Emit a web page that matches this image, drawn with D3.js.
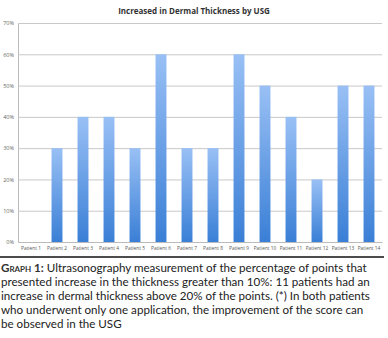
<!DOCTYPE html>
<html><head><meta charset="utf-8">
<script src="https://cdn.jsdelivr.net/npm/d3@7"></script>
<style>
body{margin:0;background:#fff;}
#cap{position:absolute;left:1px;top:261px;width:386px;font-family:Lato,"Open Sans",sans-serif;font-size:11.6px;line-height:14.1px;color:#222;white-space:nowrap;}
#cap b{font-variant:small-caps;font-weight:bold;color:#333;}
</style>
</head><body>
<svg id="chart" width="388" height="338" style="position:absolute;left:0;top:0"></svg>
<div id="cap">
<div><b>Graph 1:</b> Ultrasonography measurement of the percentage of points that</div>
<div>presented increase in the thickness greater than 10%: 11 patients had an</div>
<div>increase in dermal thickness above 20% of the points. (*) In both patients</div>
<div>who underwent only one application, the improvement of the score can</div>
<div>be observed in the USG</div>
</div>
<script>
const categories = ["Patient 1","Patient 2","Patient 3","Patient 4","Patient 5","Patient 6","Patient 7","Patient 8","Patient 9","Patient 10","Patient 11","Patient 12","Patient 13","Patient 14"];
const values = [0,30,40,40,30,60,30,30,60,50,40,20,50,50];
const yTicks = [0,10,20,30,40,50,60,70];
const title = "Increased in Dermal Thickness by USG";

const svg = d3.select("#chart");
const pLeft = 18, pRight = 382, pTop = 23, pBottom = 242;
const x = d3.scaleBand().domain(categories).range([pLeft, pRight]).paddingInner(0.58).paddingOuter(0.29);
const y = d3.scaleLinear().domain([0,70]).range([pBottom, pTop]);

const defs = svg.append("defs");
const g = defs.append("linearGradient").attr("id","barg").attr("x1",0).attr("y1",0).attr("x2",0).attr("y2",1);
g.append("stop").attr("offset","0%").attr("stop-color","#99c0f5");
g.append("stop").attr("offset","100%").attr("stop-color","#3a7fd6");

svg.append("text").attr("x",194).attr("y",14).attr("text-anchor","middle")
  .style("font-family","'Open Sans',sans-serif").style("font-weight","bold").style("font-size","8px").style("fill","#333").text(title);

const yAxis = svg.append("g").attr("transform",`translate(${pLeft},0)`)
  .call(d3.axisLeft(y).tickValues(yTicks).tickFormat(d=>d+"%").tickSize(-(pRight-pLeft)));
yAxis.select(".domain").attr("stroke","#bbb");
yAxis.selectAll(".tick line").attr("stroke","#c8c8c8");
yAxis.selectAll(".tick text").attr("x",-4).style("font-family","'Open Sans',sans-serif").style("font-size","5.5px").style("fill","#666");

svg.selectAll("rect.bar").data(values).enter().append("rect").attr("class","bar")
  .attr("x",(d,i)=>x(categories[i])).attr("width",x.bandwidth())
  .attr("y",d=>y(d)).attr("height",d=>y(0)-y(d)).attr("fill","url(#barg)");

const xAxis = svg.append("g").attr("transform",`translate(0,${pBottom})`)
  .call(d3.axisBottom(x).tickSize(0).tickPadding(5));
xAxis.select(".domain").attr("stroke","#bbb");
xAxis.selectAll(".tick text").style("font-family","'Open Sans',sans-serif").style("font-size","4.8px").style("fill","#555");

svg.append("line").attr("x1",0).attr("x2",384).attr("y1",257).attr("y2",257).attr("stroke","#111").attr("stroke-width",1.5);
</script>
</body></html>
